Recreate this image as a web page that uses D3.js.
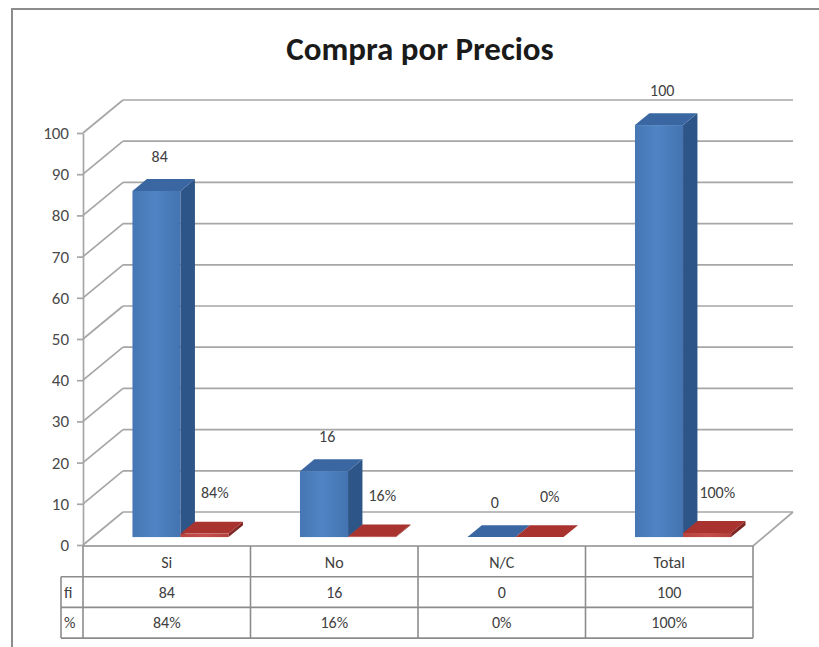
<!DOCTYPE html>
<html>
<head>
<meta charset="utf-8">
<script src="https://cdn.jsdelivr.net/npm/d3@7/dist/d3.min.js"></script>
<style>
  html, body { margin: 0; padding: 0; background: #ffffff; }
  svg { display: block; }
  text { font-family: Carlito, Lato, "Liberation Sans", sans-serif; }
</style>
</head>
<body>
<script>
// Compra por Precios: frequency (fi) and share (%) per answer
const categories = ["Si", "No", "N/C", "Total"];
const series = ["fi", "%"];
const fiValues = [84, 16, 0, 100];
const pctValues = [0.84, 0.16, 0, 1];
const yTicks = [0, 10, 20, 30, 40, 50, 60, 70, 80, 90, 100];
const title = "Compra por Precios";

const W = 819, H = 647;
const svg = d3.select("body").append("svg").attr("width", W).attr("height", H);

// oblique 3D frame: front plane plus a depth vector towards the back wall
const front = { left: 83, right: 753, bottom: 545, top: 133 };
const depth = { dx: 40, dy: -33 };
const barDepth = { f0: 0.24, f1: 0.6 };

const x = d3.scaleBand().domain(categories).range([front.left, front.right]);
const bw = x.bandwidth();
const xs = d3.scaleBand().domain(series).range([0.238 * bw, 0.238 * bw + 2 * 0.287 * bw]);
const y = d3.scaleLinear().domain([0, 100]).range([front.bottom, front.top]);

const proj = (px, v, f) => [px + depth.dx * f, y(v) + depth.dy * f];

// outer frame
svg.append("rect").attr("x", 12).attr("y", 9).attr("width", W + 20).attr("height", H + 20)
  .attr("fill", "#ffffff").attr("stroke", "#8c8c8c").attr("stroke-width", 2);

// title
svg.append("text").attr("x", 420).attr("y", 60).attr("text-anchor", "middle")
  .attr("font-size", 33).attr("font-weight", "bold").attr("fill", "#1a1a1a")
  .text(title);

const gridColor = "#a6a6a6";
const grid = svg.append("g").attr("stroke", gridColor).attr("stroke-width", 1.7).attr("fill", "none");

// back-wall gridlines and left-wall diagonals
yTicks.forEach(t => {
  const a = proj(front.left, t, 0), b = proj(front.left, t, 1), c = proj(front.right, t, 1);
  grid.append("line").attr("x1", a[0]).attr("y1", a[1]).attr("x2", b[0]).attr("y2", b[1]);
  grid.append("line").attr("x1", b[0]).attr("y1", b[1]).attr("x2", c[0]).attr("y2", c[1]);
});
// floor right edge
{
  const a = proj(front.right, 0, 0), b = proj(front.right, 0, 1);
  grid.append("line").attr("x1", a[0]).attr("y1", a[1] + 1).attr("x2", b[0]).attr("y2", b[1]);
}

// y axis
const yAxis = d3.axisLeft(y).tickValues(yTicks).tickSize(6).tickSizeOuter(0).tickPadding(8);
const ag = svg.append("g").attr("transform", `translate(${front.left},0)`).call(yAxis);
ag.select(".domain").attr("stroke", gridColor).attr("stroke-width", 1.7);
ag.selectAll(".tick line").attr("stroke", gridColor).attr("stroke-width", 1.7);
ag.selectAll(".tick text").attr("font-size", 17).attr("fill", "#4a4a4a")
  .style("font-family", "Carlito, Lato, sans-serif");

// gradients for bar faces
const defs = svg.append("defs");
function hGrad(id, stops) {
  const g = defs.append("linearGradient").attr("id", id).attr("x1", 0).attr("x2", 1).attr("y1", 0).attr("y2", 0);
  stops.forEach(([o, c]) => g.append("stop").attr("offset", o).attr("stop-color", c));
}
hGrad("blueFront", [[0, "#4676b4"], [0.45, "#4f84c4"], [1, "#4473b1"]]);
hGrad("redFront", [[0, "#b8443f"], [0.5, "#c4504b"], [1, "#b2403c"]]);

const palette = {
  "fi": { front: "url(#blueFront)", top: "#3a67a2", side: "#2d5587" },
  "%": { front: "url(#redFront)", top: "#a8332f", side: "#7e2623" }
};

const bars = [];
categories.forEach((c, i) => {
  bars.push({ cat: c, s: "fi", v: fiValues[i], label: String(fiValues[i]) });
  bars.push({ cat: c, s: "%", v: pctValues[i], label: d3.format(".0%")(pctValues[i]) });
});

const pts = arr => arr.map(p => p.join(",")).join(" ");
const barG = svg.append("g");
bars.forEach(d => {
  const xl = x(d.cat) + xs(d.s), xr = xl + xs.bandwidth();
  const col = palette[d.s];
  const g = barG.append("g");
  // front face
  const fTop = proj(xl, d.v, barDepth.f0), fBot = proj(xr, 0, barDepth.f0);
  if (fBot[1] - fTop[1] > 0.01) {
    g.append("rect").attr("x", fTop[0]).attr("y", fTop[1])
      .attr("width", fBot[0] - fTop[0]).attr("height", fBot[1] - fTop[1]).attr("fill", col.front);
    // side face
    g.append("polygon").attr("fill", col.side).attr("points", pts([
      proj(xr, 0, barDepth.f0), proj(xr, d.v, barDepth.f0), proj(xr, d.v, barDepth.f1), proj(xr, 0, barDepth.f1)
    ]));
  }
  // top face
  g.append("polygon").attr("fill", col.top).attr("points", pts([
    proj(xl, d.v, barDepth.f0), proj(xr, d.v, barDepth.f0), proj(xr, d.v, barDepth.f1), proj(xl, d.v, barDepth.f1)
  ]));
  d.topCenter = proj((xl + xr) / 2, d.v, (barDepth.f0 + barDepth.f1) / 2);
});

// data labels
svg.append("g").selectAll("text").data(bars).join("text")
  .attr("x", d => d.topCenter[0] + (d.s === "fi" ? -4 : 3))
  .attr("y", d => d.topCenter[1] - (d.s === "fi" ? 29 : 35))
  .attr("dy", "0.35em").attr("text-anchor", "middle")
  .attr("font-size", 16).attr("fill", "#404040")
  .text(d => d.label);

// data table under the floor
const rowH = 30.7;
const tableTop = front.bottom + 1;
const rowHeadLeft = 61;
const tg = svg.append("g").attr("stroke", "#8c8c8c").attr("stroke-width", 1.6).attr("fill", "none");
// horizontal rules
tg.append("line").attr("x1", front.left).attr("x2", front.right).attr("y1", tableTop).attr("y2", tableTop);
[1, 2, 3].forEach(r => {
  tg.append("line").attr("x1", rowHeadLeft).attr("x2", front.right)
    .attr("y1", tableTop + r * rowH).attr("y2", tableTop + r * rowH);
});
// vertical rules
tg.append("line").attr("x1", rowHeadLeft).attr("x2", rowHeadLeft).attr("y1", tableTop + rowH).attr("y2", tableTop + 3 * rowH);
[front.left, ...categories.map(c => x(c) + bw)].forEach(vx => {
  tg.append("line").attr("x1", vx).attr("x2", vx).attr("y1", tableTop).attr("y2", tableTop + 3 * rowH);
});

const txt = svg.append("g").attr("font-size", 16).attr("fill", "#404040");
categories.forEach((c, i) => {
  const cx = x(c) + bw / 2;
  txt.append("text").attr("x", cx).attr("y", tableTop + rowH * 0.5 + 1).attr("dy", "0.35em").attr("text-anchor", "middle").text(c);
  txt.append("text").attr("x", cx).attr("y", tableTop + rowH * 1.5).attr("dy", "0.35em").attr("text-anchor", "middle").text(fiValues[i]);
  txt.append("text").attr("x", cx).attr("y", tableTop + rowH * 2.5).attr("dy", "0.35em").attr("text-anchor", "middle").text(d3.format(".0%")(pctValues[i]));
});
series.forEach((s, r) => {
  txt.append("text").attr("x", rowHeadLeft + 3).attr("y", tableTop + rowH * (1.5 + r)).attr("dy", "0.35em").text(s);
});
</script>
</body>
</html>
